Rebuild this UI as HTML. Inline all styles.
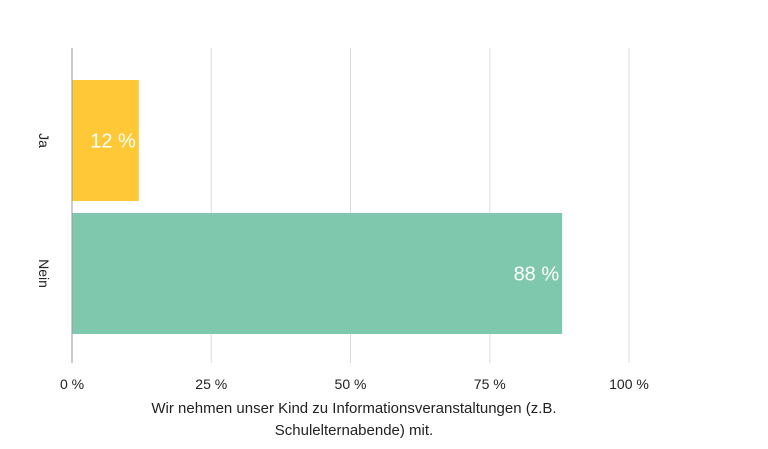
<!DOCTYPE html>
<html><head><meta charset="utf-8"><style>
body{margin:0;background:#fff;font-family:"Liberation Sans",sans-serif;}
svg text{font-family:"Liberation Sans",sans-serif;}
</style></head><body>
<svg width="768" height="444" viewBox="0 0 768 444">
<g id="grid"></g><g id="bars"></g><g id="labels"></g>
<line x1="72" y1="48" x2="72" y2="363" stroke="#999" stroke-width="1"/>
<text x="354" y="413" text-anchor="middle" font-size="15" fill="#222">Wir nehmen unser Kind zu Informationsveranstaltungen (z.B.</text>
<text x="354" y="435" text-anchor="middle" font-size="15" fill="#222">Schulelternabende) mit.</text>
</svg>
<script>
const categories=["Ja","Nein"];
const values=[12,88];
const valueLabels=["12 %","88 %"];
const ticks=[0,25,50,75,100];
const tickLabels=["0 %","25 %","50 %","75 %","100 %"];
const colors=["#FFC836","#7FC8AE"];
const NS="http://www.w3.org/2000/svg";
const x=v=>72+v*5.57;
const bandTop=[80,213],bandH=121;
const y=i=>80+i*133;
const grid=document.getElementById('grid'),bars=document.getElementById('bars'),labels=document.getElementById('labels');
ticks.forEach((t,i)=>{
 if(t>0){const l=document.createElementNS(NS,'line');
 l.setAttribute('x1',x(t));l.setAttribute('x2',x(t));l.setAttribute('y1',48);l.setAttribute('y2',363);
 l.setAttribute('stroke','#ddd');
 
 
 grid.appendChild(l);}
 const tx=document.createElementNS(NS,'text');
 tx.setAttribute('x',x(t));tx.setAttribute('y',389);tx.setAttribute('text-anchor','middle');tx.setAttribute('font-size','14');tx.setAttribute('fill','#222');
 tx.textContent=tickLabels[i];
 
 
 labels.appendChild(tx);
});
categories.forEach((c,i)=>{
 const r=document.createElementNS(NS,'rect');
 r.setAttribute('x',x(0));r.setAttribute('y',y(i));r.setAttribute('width',x(values[i])-x(0));r.setAttribute('height',bandH);r.setAttribute('fill',colors[i]);
 
 
 bars.appendChild(r);
 const v=document.createElementNS(NS,'text');
 v.setAttribute('x',x(values[i])-3);v.setAttribute('y',y(i)+bandH/2+7);v.setAttribute('text-anchor','end');v.setAttribute('font-size','20');v.setAttribute('fill','#fff');
 v.textContent=valueLabels[i];
 
 
 labels.appendChild(v);
 const cl=document.createElementNS(NS,'text');
 const cy=y(i)+bandH/2;
 cl.setAttribute('x',44);cl.setAttribute('y',cy);cl.setAttribute('text-anchor','middle');cl.setAttribute('dominant-baseline','central');cl.setAttribute('font-size','14');cl.setAttribute('fill','#222');
 cl.setAttribute('transform','rotate(90 44 '+cy+')');
 cl.textContent=c;
 
 
 labels.appendChild(cl);
});
</script>
</body></html>
